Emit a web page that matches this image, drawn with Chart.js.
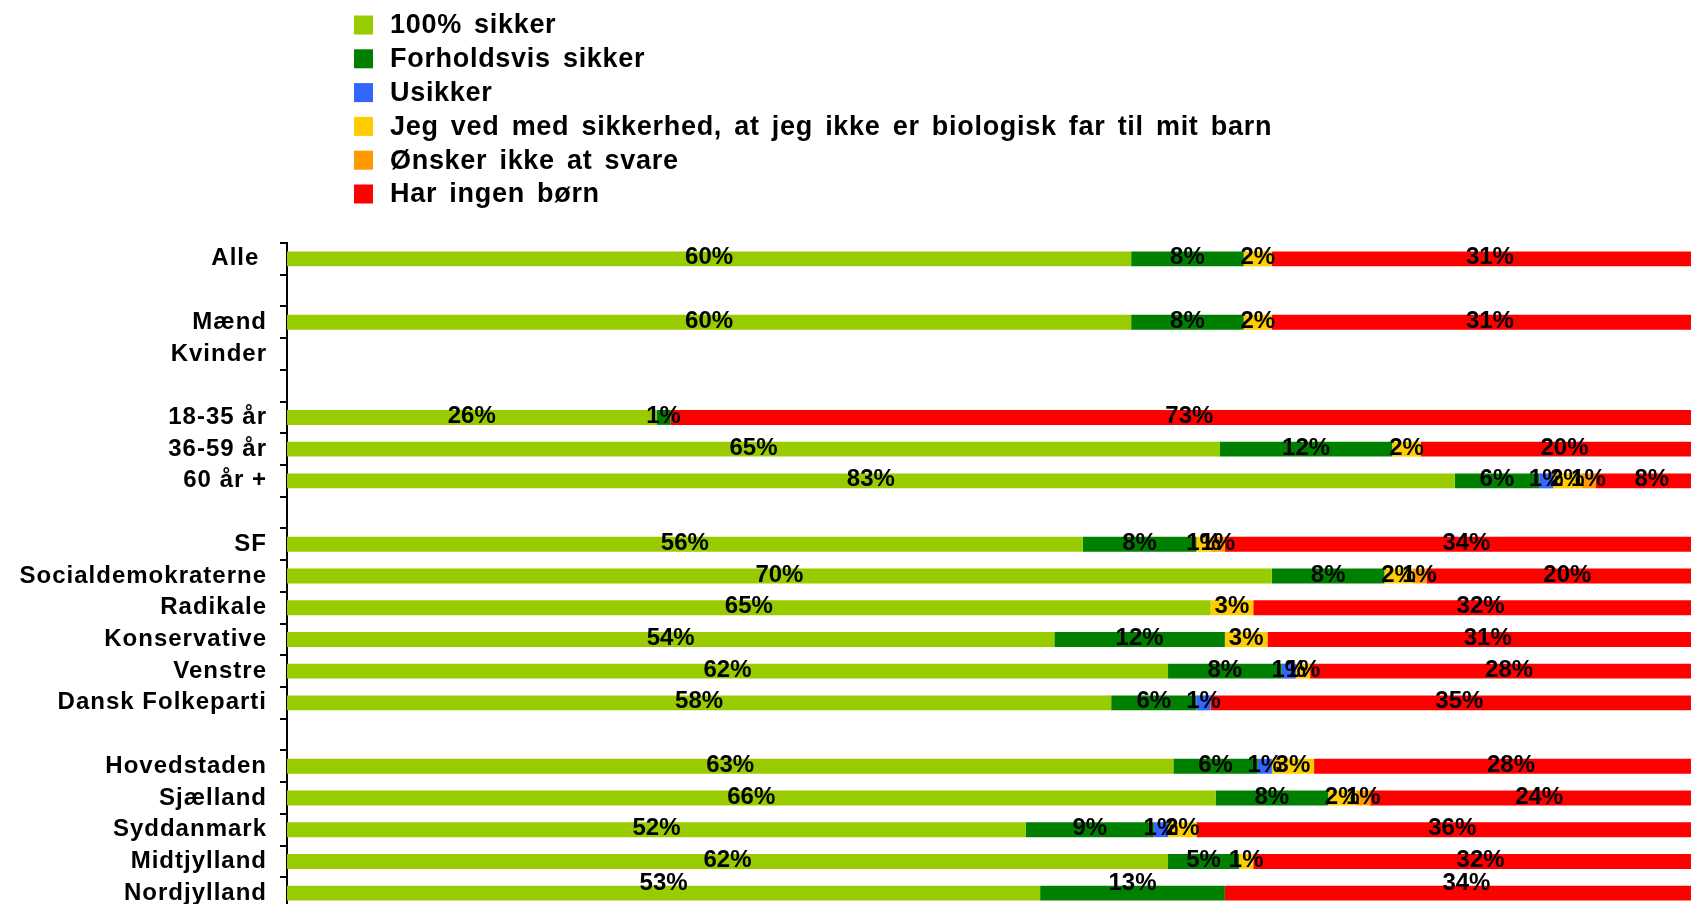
<!DOCTYPE html>
<html>
<head>
<meta charset="utf-8">
<script src="https://cdn.jsdelivr.net/npm/chart.js@4.4.0/dist/chart.umd.min.js"></script>
<style>
html, body { margin: 0; padding: 0; background: #fff; overflow: hidden; }
canvas { display: block; }
</style>
</head>
<body>
<canvas id="fatherChart" width="1708" height="909"></canvas>
<script>
// rows (blank strings are spacer rows)
var categories = ['Alle ', '', 'Mænd', 'Kvinder', '', '18-35 år', '36-59 år', '60 år +', '',
    'SF', 'Socialdemokraterne', 'Radikale', 'Konservative', 'Venstre', 'Dansk Folkeparti', '',
    'Hovedstaden', 'Sjælland', 'Syddanmark', 'Midtjylland', 'Nordjylland'];

var seriesNames = ['100% sikker', 'Forholdsvis sikker', 'Usikker',
    'Jeg ved med sikkerhed, at jeg ikke er biologisk far til mit barn',
    'Ønsker ikke at svare', 'Har ingen børn'];
var seriesColors = ['#99CC00', '#008000', '#3366FF', '#FFCC00', '#FF9900', '#FF0000'];

// percent as printed on the bars
var sikker100   = [60, null, 60, null, null, 26, 65, 83, null, 56, 70, 65, 54, 62, 58, null, 63, 66, 52, 62, 53];
var forholdsvis = [8,  null, 8,  null, null, 1,  12, 6,  null, 8,  8,  0,  12, 8,  6,  null, 6,  8,  9,  5,  13];
var usikker     = [0,  null, 0,  null, null, 0,  0,  1,  null, 0,  0,  0,  0,  1,  1,  null, 1,  0,  1,  0,  0];
var ikkeFar     = [2,  null, 2,  null, null, 0,  2,  2,  null, 1,  2,  3,  3,  1,  0,  null, 3,  2,  2,  1,  0];
var oenskerIkke = [0,  null, 0,  null, null, 0,  0,  1,  null, 1,  1,  0,  0,  0,  0,  null, 0,  1,  0,  0,  0];
var ingenBoern  = [31, null, 31, null, null, 73, 20, 8,  null, 34, 20, 32, 31, 28, 35, null, 28, 24, 36, 32, 34];

var series = [sikker100, forholdsvis, usikker, ikkeFar, oenskerIkke, ingenBoern];

// 100% stacked: every row is scaled to its own total
var rowTotals = categories.map(function(c, j) {
    var sum = 0;
    series.forEach(function(s) { sum += s[j] || 0; });
    return sum;
});

var datasets = series.map(function(s, i) {
    return {
        label: seriesNames[i],
        rawValues: s,
        data: s.map(function(v, j) { return v ? v / rowTotals[j] * 100 : null; }),
        backgroundColor: seriesColors[i],
        borderWidth: 0,
        barPercentage: 0.47,
        categoryPercentage: 1
    };
});

var fontFamily = '"Liberation Sans", Arial, Helvetica, sans-serif';

var spacing = {
    id: 'spacing',
    beforeDraw: function(chart) {
        chart.ctx.letterSpacing = '1px';
    }
};

var segmentLabels = {
    id: 'segmentLabels',
    afterDatasetsDraw: function(chart) {
        var ctx = chart.ctx;
        ctx.save();
        ctx.letterSpacing = '0px';
        ctx.font = 'bold 24px ' + fontFamily;
        ctx.fillStyle = '#000';
        ctx.textAlign = 'center';
        ctx.textBaseline = 'middle';
        chart.data.datasets.forEach(function(ds, i) {
            chart.getDatasetMeta(i).data.forEach(function(bar, j) {
                var raw = ds.rawValues[j];
                if (!raw) return;
                // last row is cut by the frame, its labels get pushed up
                var y = Math.min(bar.y - 1, 883);
                ctx.fillText(raw + '%', (bar.x + bar.base) / 2, y);
            });
        });
        ctx.restore();
    }
};

var boxLegend = {
    id: 'boxLegend',
    afterDraw: function(chart) {
        var ctx = chart.ctx;
        ctx.save();
        ctx.font = 'bold 27px ' + fontFamily;
        ctx.letterSpacing = '0.7px';
        ctx.wordSpacing = '4px';
        ctx.textAlign = 'left';
        ctx.textBaseline = 'middle';
        chart.data.datasets.forEach(function(ds, i) {
            var cy = 25 + i * 33.8;
            ctx.fillStyle = ds.backgroundColor;
            ctx.fillRect(354, cy - 9.5, 19, 19);
            ctx.fillStyle = '#000';
            ctx.fillText(ds.label, 390, cy + 1);
        });
        ctx.restore();
    }
};

var ctx = document.getElementById('fatherChart');
var myChart = new Chart(ctx, {
    type: 'bar',
    data: {
        labels: categories,
        datasets: datasets
    },
    plugins: [spacing, segmentLabels, boxLegend],
    options: {
        indexAxis: 'y',
        responsive: false,
        animation: false,
        devicePixelRatio: 1,
        layout: {
            padding: { top: 243, right: 0, bottom: 0, left: 0 }
        },
        plugins: {
            legend: { display: false },
            tooltip: { enabled: false }
        },
        scales: {
            x: {
                stacked: true,
                min: 0,
                max: 100,
                display: false
            },
            y: {
                stacked: true,
                afterFit: function(scale) {
                    scale.width = 287;
                    scale.paddingTop = 0;
                    scale.paddingBottom = 0;
                },
                grid: {
                    offset: true,
                    drawOnChartArea: false,
                    drawTicks: true,
                    tickLength: 7,
                    color: '#000',
                    lineWidth: 2
                },
                border: { display: true, color: '#000', width: 2 },
                ticks: {
                    autoSkip: false,
                    padding: 13,
                    color: '#000',
                    font: { family: fontFamily, size: 24, weight: 'bold' }
                }
            }
        }
    }
});
</script>
</body>
</html>
